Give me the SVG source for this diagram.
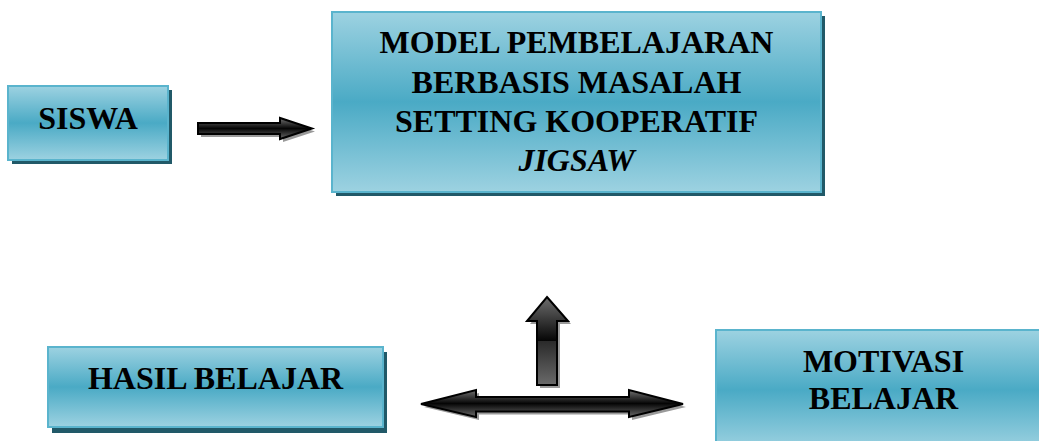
<svg xmlns="http://www.w3.org/2000/svg" width="1039" height="441" viewBox="0 0 1039 441">
<defs>
<linearGradient id="boxg" x1="0" y1="0" x2="0" y2="1">
<stop offset="0" stop-color="#9dd2e1"/>
<stop offset="0.5" stop-color="#4aaac5"/>
<stop offset="1" stop-color="#9dd2e1"/>
</linearGradient>
<linearGradient id="arrH" x1="0" y1="0" x2="0" y2="1">
<stop offset="0" stop-color="#707070"/>
<stop offset="0.5" stop-color="#050505"/>
<stop offset="1" stop-color="#6a6a6a"/>
</linearGradient>
<linearGradient id="arrV" gradientUnits="userSpaceOnUse" x1="0" y1="297" x2="0" y2="385">
<stop offset="0" stop-color="#6e6e6e"/>
<stop offset="0.5" stop-color="#050505"/>
<stop offset="0.5" stop-color="#2a2a2a"/>
<stop offset="1" stop-color="#6a6a6a"/>
</linearGradient>
</defs>
<style>
.shadow{fill:#215968}
.box{fill:url(#boxg);stroke:#5ab4cd;stroke-width:2}
.t{font-family:"Liberation Serif","Times New Roman",serif;font-weight:bold;font-size:32px;fill:#000;text-anchor:middle}
.ashadow{fill:#9a9a9a}
.arrH{fill:url(#arrH);stroke:#000;stroke-width:2;stroke-linejoin:miter}
.arrV{fill:url(#arrV);stroke:#000;stroke-width:2;stroke-linejoin:miter}
</style>
<g id="siswa">
<rect class="shadow" x="12" y="90" width="160" height="74"/>
<rect class="box" x="8" y="86" width="160" height="74"/>
<text class="t" x="88" y="129">SISWA</text>
</g>
<g id="model">
<rect class="shadow" x="336" y="16" width="489" height="180"/>
<rect class="box" x="332" y="12" width="489" height="180"/>
<text class="t" x="576.5" y="53">MODEL PEMBELAJARAN</text>
<text class="t" x="576.5" y="93">BERBASIS MASALAH</text>
<text class="t" x="576.5" y="132">SETTING KOOPERATIF</text>
<text class="t" x="576.5" y="171" font-style="italic">JIGSAW</text>
</g>
<g id="hasil">
<rect class="shadow" x="52" y="352" width="335" height="81"/>
<rect class="box" x="48" y="347" width="335" height="80"/>
<text class="t" x="215.5" y="389">HASIL BELAJAR</text>
</g>
<g id="motivasi">
<rect class="shadow" x="720" y="334" width="330" height="120"/>
<rect class="box" x="716" y="330" width="330" height="120"/>
<text class="t" x="883.5" y="372">MOTIVASI</text>
<text class="t" x="883.5" y="409">BELAJAR</text>
</g>
<g id="connectors">
<polygon class="ashadow" points="201,126 283,126 283,121 315,131.5 283,142 283,137 201,137"/>
<polygon class="arrH" points="198,123 280,123 280,118 312,128.5 280,139 280,134 198,134"/>
<polygon class="ashadow" points="550,300 571,324 560,324 560,388 540,388 540,324 530,324"/>
<polygon class="arrV" points="547,297 568,321 557,321 557,385 537,385 537,321 527,321"/>
<polygon class="ashadow" points="424,407 479,393 479,400 632,400 632,393 686,407 632,420 632,414.5 479,414.5 479,420"/>
<polygon class="arrH" points="421,404 476,390 476,397 629,397 629,390 683,404 629,417 629,411.5 476,411.5 476,417"/>
</g>
</svg>
